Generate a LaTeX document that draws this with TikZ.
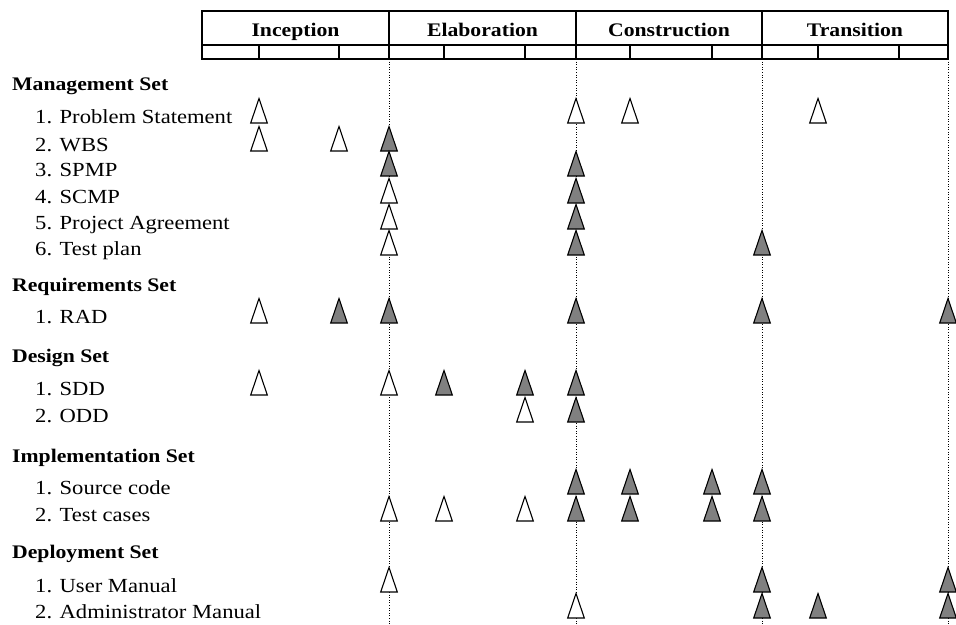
\documentclass[tikz,border=0pt]{standalone}
\usepackage{fontspec}
\setmainfont[FakeStretch=1.13]{Liberation Serif}
\usetikzlibrary{calc, positioning}

\definecolor{TriGray}{RGB}{128,128,128}

\tikzset{
    setlabel/.style={anchor=base west, inner sep=0pt, font=\fontsize{19.2}{23}\selectfont\bfseries},
    itemlabel/.style={anchor=base west, inner sep=0pt, font=\fontsize{20}{24}\selectfont},
    phaselabel/.style={anchor=base, inner sep=0pt, font=\fontsize{19.2}{23}\selectfont\bfseries},
    tri-o/.style={draw=black, fill=white, line width=1.1pt, line join=miter},
    tri-f/.style={draw=black, fill=TriGray, line width=1.1pt, line join=miter},
    milestone/.style={dotted, line width=0.6pt}
}

% tam giac san pham: kieu, x, y (day tam giac)
\newcommand{\deliv}[3]{\draw[#1] (#2-8.3,#3) -- (#2+8.3,#3) -- (#2,#3-24.5) -- cycle;}

\begin{document}
\begin{tikzpicture}[x=1pt, y=-1pt]

    \useasboundingbox (0,0) rectangle (956,624);

    % =================================================================
    % 1. TOA DO CAC MOC GIAI DOAN
    % =================================================================
    \coordinate (PhaseA) at (202,11);
    \coordinate (PhaseB) at (389,11);
    \coordinate (PhaseC) at (576,11);
    \coordinate (PhaseD) at (762,11);
    \coordinate (PhaseE) at (948,11);

    % =================================================================
    % 2. KHUNG TIEU DE CAC GIAI DOAN
    % =================================================================
    \draw[line width=1.4pt] (PhaseA) rectangle (948,59);
    \draw[line width=1.1pt] (202,45) -- (948,45);
    \foreach \x in {389,576,762}
        \draw[line width=1.4pt] (\x,11) -- (\x,59);
    \foreach \x in {259,339,444,525,630,712,818,899}
        \draw[line width=1.1pt] (\x,45) -- (\x,59);

    \node[phaselabel] (inception)    at (295.5,36) {Inception};
    \node[phaselabel] (elaboration)  at (482.5,36) {Elaboration};
    \node[phaselabel] (construction) at (669,36)   {Construction};
    \node[phaselabel] (transition)   at (855,36)   {Transition};

    % Cac duong cham moc
    \foreach \x in {389,576,762,948}
        \draw[milestone] (\x,59) -- (\x,624);

    % =================================================================
    % 3. NHAN CAC TAP SAN PHAM
    % =================================================================
    \node[setlabel]  (mgmt)   at (12,90)  {Management Set};
    \node[itemlabel] (ps)     at (35,123) {1. Problem Statement};
    \node[itemlabel] (wbs)    at (35,151) {2. WBS};
    \node[itemlabel] (spmp)   at (35,176) {3. SPMP};
    \node[itemlabel] (scmp)   at (35,203) {4. SCMP};
    \node[itemlabel] (pa)     at (35,229) {5. Project Agreement};
    \node[itemlabel] (tp)     at (35,255) {6. Test plan};

    \node[setlabel]  (req)    at (12,291) {Requirements Set};
    \node[itemlabel] (rad)    at (35,323) {1. RAD};

    \node[setlabel]  (design) at (12,362) {Design Set};
    \node[itemlabel] (sdd)    at (35,395) {1. SDD};
    \node[itemlabel] (odd)    at (35,422) {2. ODD};

    \node[setlabel]  (impl)   at (12,462) {Implementation Set};
    \node[itemlabel] (src)    at (35,494) {1. Source code};
    \node[itemlabel] (tc)     at (35,521) {2. Test cases};

    \node[setlabel]  (deploy) at (12,558) {Deployment Set};
    \node[itemlabel] (um)     at (35,592) {1. User Manual};
    \node[itemlabel] (am)     at (35,618) {2. Administrator Manual};

    % =================================================================
    % 4. CAC TAM GIAC (o = ban nhap, f = ban chinh thuc)
    % =================================================================
    \foreach \x/\k in {259/o,576/o,630/o,818/o} {\deliv{tri-\k}{\x}{123}}
    \foreach \x/\k in {259/o,339/o,389/f} {\deliv{tri-\k}{\x}{151}}
    \foreach \x/\k in {389/f,576/f} {\deliv{tri-\k}{\x}{176}}
    \foreach \x/\k in {389/o,576/f} {\deliv{tri-\k}{\x}{203}}
    \foreach \x/\k in {389/o,576/f} {\deliv{tri-\k}{\x}{229}}
    \foreach \x/\k in {389/o,576/f,762/f} {\deliv{tri-\k}{\x}{255}}

    \foreach \x/\k in {259/o,339/f,389/f,576/f,762/f,948/f} {\deliv{tri-\k}{\x}{323}}

    \foreach \x/\k in {259/o,389/o,444/f,525/f,576/f} {\deliv{tri-\k}{\x}{395}}
    \foreach \x/\k in {525/o,576/f} {\deliv{tri-\k}{\x}{422}}

    \foreach \x/\k in {576/f,630/f,712/f,762/f} {\deliv{tri-\k}{\x}{494}}
    \foreach \x/\k in {389/o,444/o,525/o,576/f,630/f,712/f,762/f} {\deliv{tri-\k}{\x}{521}}

    \foreach \x/\k in {389/o,762/f,948/f} {\deliv{tri-\k}{\x}{592}}
    \foreach \x/\k in {576/o,762/f,818/f,948/f} {\deliv{tri-\k}{\x}{618}}

\end{tikzpicture}
\end{document}
